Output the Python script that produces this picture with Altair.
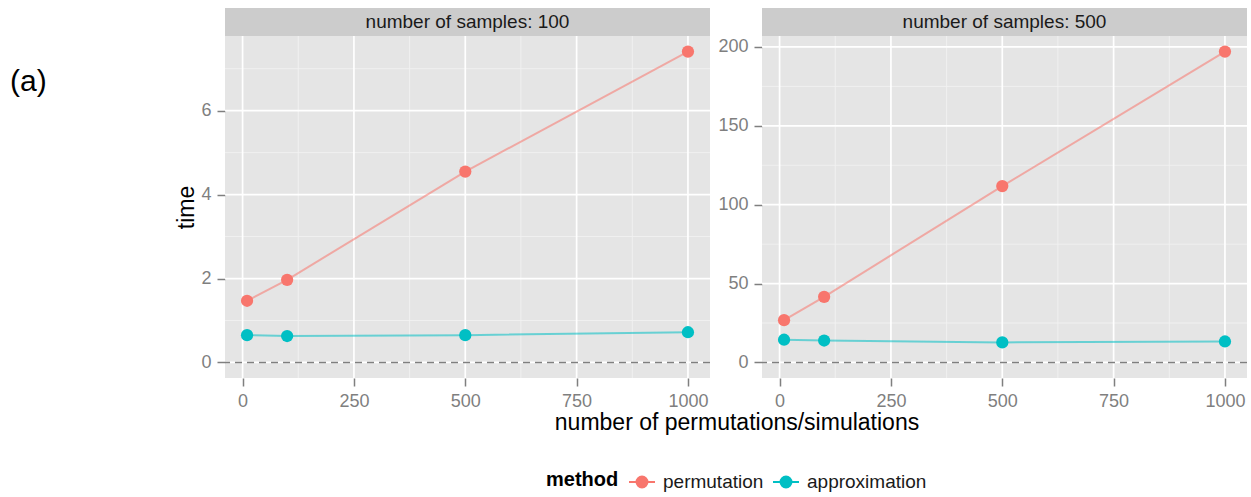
import altair as alt
import pandas as pd

# number of permutations / simulations on the x axis
permutations = [10, 100, 500, 1000]
methods = ["permutation", "approximation"]
method_colors = ["#F8766D", "#00BFC4"]
sample_sizes = [100, 500]

# elapsed time for each panel (number of samples)
perm_100 = [1.47, 1.97, 4.55, 7.41]
approx_100 = [0.65, 0.63, 0.65, 0.72]
perm_500 = [26.8, 41.6, 111.8, 197.1]
approx_500 = [14.4, 13.9, 12.7, 13.3]

x_major = [0, 250, 500, 750, 1000]
x_minor = [125, 375, 625, 875]
y_major = {100: [0, 2, 4, 6], 500: [0, 50, 100, 150, 200]}
y_minor = {100: [1, 3, 5, 7], 500: [25, 75, 125, 175]}
baseline = [0]
panel_tag = ["(a)"]

FONT = "Liberation Sans"
PANEL_W, PANEL_H, STRIP_H = 485, 342, 28

KEY_PATH = ("M-1,0L1,0M-0.42,0A0.42,0.42,0,1,1,0.42,0"
            "A0.42,0.42,0,1,1,-0.42,0Z")

legend = alt.Legend(
    title="method", orient="none", legendX=321, legendY=432,
    direction="horizontal", titleOrient="left",
    titleAnchor="middle", titleBaseline="middle",
    symbolType=KEY_PATH, symbolSize=676, symbolStrokeWidth=2,
    symbolOpacity=1,
    labelFont=FONT, labelFontSize=19, labelColor="#1A1A1A",
    titleFont=FONT, titleFontSize=20, titleFontWeight="bold",
    titleColor="#000000", titlePadding=9, labelOffset=7,
    columnPadding=5,
)
color_scale = alt.Scale(domain=methods, range=method_colors)


def expanded(values, extra=()):
    lo = min(list(values) + list(extra))
    hi = max(list(values) + list(extra))
    pad = 0.05 * (hi - lo)
    return [lo - pad, hi + pad]


def panel(n, perm, approx, first):
    df = pd.DataFrame({
        "permutations": permutations * 2,
        "method": [methods[0]] * len(perm) + [methods[1]] * len(approx),
        "time": perm + approx,
    })
    xs = alt.Scale(domain=expanded(permutations), nice=False, zero=False)
    ys = alt.Scale(domain=expanded(perm + approx, baseline), nice=False, zero=False)

    x_axis = alt.Axis(
        values=x_major, format="d", grid=False, domain=False,
        tickSize=8, tickWidth=1.5, tickColor="#7F7F7F",
        labelFont=FONT, labelFontSize=18, labelColor="#7F7F7F",
        labelBaseline="alphabetic", labelPadding=20.5,
        title="number of permutations/simulations" if first else None,
        titleFont=FONT, titleFontSize=23, titleFontWeight="normal",
        titleColor="#000000", titleX=511.5, titleY=51,
        titleBaseline="alphabetic",
    )
    y_axis = alt.Axis(
        values=y_major[n], format="d", grid=False, domain=False,
        tickSize=8, tickWidth=1.5, tickColor="#7F7F7F",
        labelFont=FONT, labelFontSize=18, labelColor="#7F7F7F",
        labelPadding=6,
        title="time" if first else None,
        titleFont=FONT, titleFontSize=23, titleFontWeight="normal",
        titleColor="#000000", titlePadding=2,
    )

    def xq(field):
        return alt.X(f"{field}:Q", scale=xs, axis=x_axis)

    def yq(field):
        return alt.Y(f"{field}:Q", scale=ys, axis=y_axis)

    # facet strip drawn just above the plotting area
    strip_df = pd.DataFrame({"label": [f"number of samples: {n}"]})
    strip_box = alt.Chart(strip_df).mark_rect(color="#CCCCCC").encode(
        x=alt.value(0), x2=alt.value("width"),
        y=alt.value(-STRIP_H), y2=alt.value(0),
    )
    strip_txt = alt.Chart(strip_df).mark_text(
        font=FONT, fontSize=19, color="#1A1A1A", baseline="middle"
    ).encode(
        text="label:N", x=alt.value(PANEL_W / 2), y=alt.value(-STRIP_H / 2)
    )

    minor_x = alt.Chart(pd.DataFrame({"v": x_minor})).mark_rule(
        color="#F2F2F2", strokeWidth=0.9).encode(x=xq("v"))
    minor_y = alt.Chart(pd.DataFrame({"v": y_minor[n]})).mark_rule(
        color="#F2F2F2", strokeWidth=0.9).encode(y=yq("v"))
    major_x = alt.Chart(pd.DataFrame({"v": x_major})).mark_rule(
        color="#FFFFFF", strokeWidth=1.7).encode(x=xq("v"))
    major_y = alt.Chart(pd.DataFrame({"v": y_major[n]})).mark_rule(
        color="#FFFFFF", strokeWidth=1.7).encode(y=yq("v"))
    zero = alt.Chart(pd.DataFrame({"v": baseline})).mark_rule(
        color="#7F7F7F", strokeWidth=1.5, strokeDash=[7, 5]).encode(y=yq("v"))

    lines = alt.Chart(df).mark_line(strokeWidth=2, strokeOpacity=0.55).encode(
        x=xq("permutations"), y=yq("time"),
        stroke=alt.Stroke("method:N", scale=color_scale, legend=legend),
    )
    points = alt.Chart(df).mark_circle(size=150, opacity=1).encode(
        x=xq("permutations"), y=yq("time"),
        fill=alt.Fill("method:N", scale=color_scale, legend=legend),
    )
    layers = [strip_box, strip_txt, minor_x, minor_y, major_x, major_y,
              zero, lines, points]
    if first:
        tag = alt.Chart(pd.DataFrame({"tag": panel_tag})).mark_text(
            font=FONT, fontSize=30, color="#000000", align="left",
            baseline="alphabetic",
        ).encode(text="tag:N", x=alt.value(-215), y=alt.value(55))
        layers.append(tag)
    return alt.layer(*layers).properties(width=PANEL_W, height=PANEL_H)


chart = alt.hconcat(
    panel(100, perm_100, approx_100, True),
    panel(500, perm_500, approx_500, False),
    spacing=52, bounds="flush",
).properties(
    padding={"left": 10, "top": 8, "right": 0, "bottom": 0},
    background="#FFFFFF",
).configure_view(stroke=None, fill="#E5E5E5")

chart.save("out.html", embed_options={"renderer": "svg", "actions": False})
